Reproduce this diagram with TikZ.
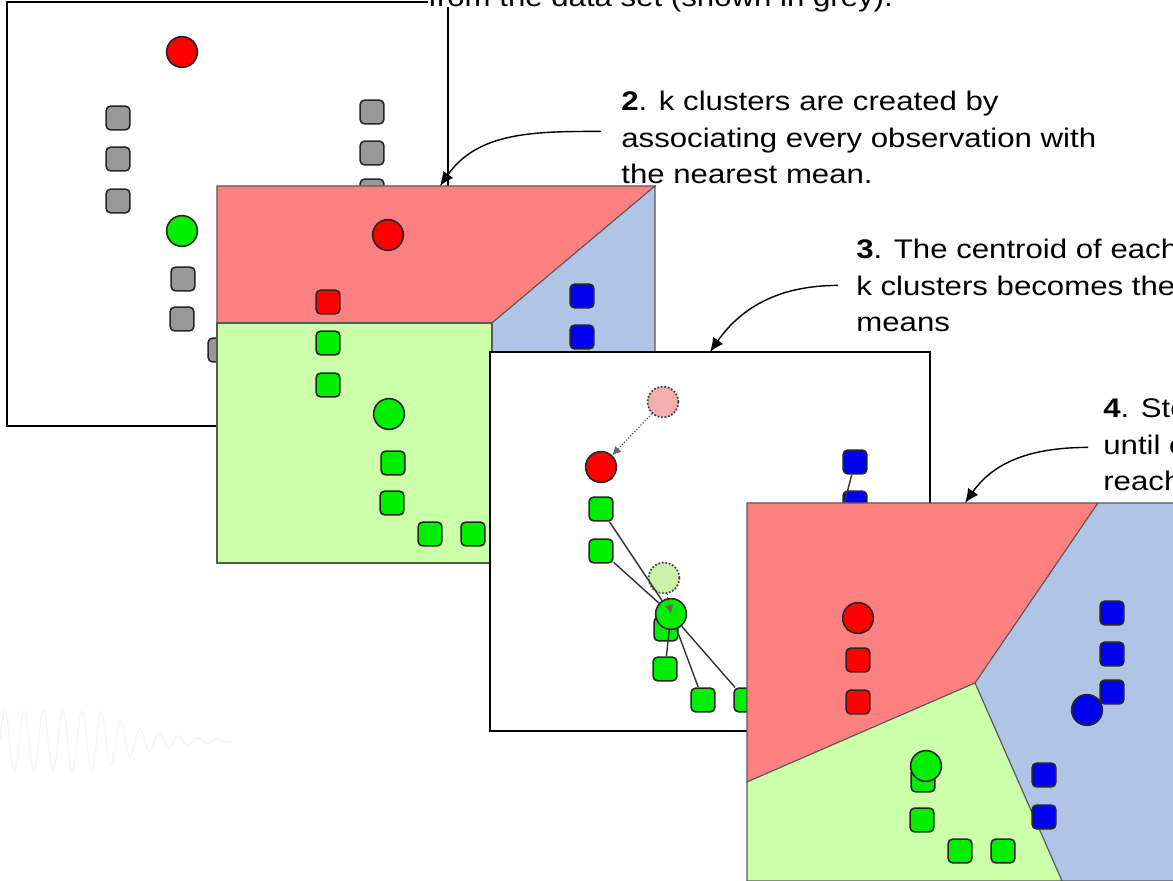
\documentclass[tikz,border=0pt]{standalone}
\usepackage{fontspec}
\setmainfont{Liberation Sans}
\newfontfamily\stepfont{Liberation Sans}[FakeStretch=1.16]
\usetikzlibrary{arrows.meta}

\definecolor{regred}{RGB}{255,128,128}
\definecolor{reggreen}{RGB}{204,255,170}
\definecolor{regblue}{RGB}{176,196,230}
\definecolor{ptgrey}{RGB}{153,153,153}
\definecolor{ptred}{RGB}{255,0,0}
\definecolor{ptgreen}{RGB}{0,238,0}
\definecolor{ptblue}{RGB}{0,0,238}
\definecolor{oldred}{RGB}{244,176,176}
\definecolor{oldgreen}{RGB}{204,242,170}
\definecolor{wavepink}{RGB}{252,240,240}

\tikzset{
  obs/.style={draw=black!85, line width=0.9pt, rounded corners=2.5pt, minimum size=13.5pt, inner sep=0pt, fill=#1},
  mean/.style={circle, draw=black!85, line width=0.9pt, minimum size=17.5pt, inner sep=0pt, fill=#1},
  oldmean/.style={circle, draw=black!75, densely dotted, line width=1pt, minimum size=17.5pt, inner sep=0pt, fill=#1},
  panelbox/.style={draw=black, line width=0.9pt, fill=white},
  region/.style={draw=black!65, line width=0.6pt, fill=#1},
  notearrow/.style={-{Latex[length=8pt,width=7pt]}, line width=0.8pt},
  moved/.style={-{Latex[length=5pt,width=5pt]}, densely dotted, draw=black!60, line width=0.7pt},
  link/.style={draw=black!80, line width=0.8pt},
  steptext/.style={font=\stepfont\fontsize{15.3}{20.6}\selectfont, align=left, inner sep=0pt, anchor=north west}
}

\begin{document}
\begin{tikzpicture}[x=0.02cm, y=-0.02cm]
\useasboundingbox (0,0) rectangle (1173,881);

% faint wave in the lower left
\draw[wavepink, line width=0.6pt] plot[domain=0:232, samples=400, smooth]
  (\x, {741 - 30*min(1,exp(-(\x-100)/45))*sin(18.653*\x)});

% panel 1: initial means
\begin{scope}[shift={(7,2)}]
\draw[panelbox] (0,0) rectangle (441,424);
\foreach \n/\x/\y in {a1/111/116, a2/111/157, a3/111/199, b1/365/110, b2/365/151, b3/365/189,
                      c1/297/272, c2/297/314, d1/176/277, d2/175/317, d3/213/348, d4/256/348}
  \node[obs=ptgrey] (p1\n) at (\x,\y) {};
\node[mean=ptred] (p1red) at (175,50) {};
\node[mean=ptgreen] (p1green) at (175,229) {};
\end{scope}
\node[steptext, anchor=base west, fill=white, text depth=0pt] (t1) at (428,7) {from the data set (shown in grey).};

% panel 2: assignment
\begin{scope}[shift={(217,186)}]
\draw[region=regred] (0,0) -- (438,0) -- (275,137) -- (0,137) -- cycle;
\draw[region=regblue] (275,137) -- (438,0) -- (438,377) -- (275,377) -- cycle;
\draw[region=reggreen] (0,137) -- (275,137) -- (275,377) -- (0,377) -- cycle;
\foreach \n/\x/\y/\c in {a1/111/116/ptred, a2/111/157/ptgreen, a3/111/199/ptgreen,
                         b1/365/110/ptblue, b2/365/151/ptblue, b3/365/189/ptblue,
                         c1/297/272/ptblue, c2/297/314/ptblue, d1/176/277/ptgreen,
                         d2/175/317/ptgreen, d3/213/348/ptgreen, d4/256/348/ptgreen}
  \node[obs=\c] (p2\n) at (\x,\y) {};
\node[mean=ptred] (p2red) at (171,49) {};
\node[mean=ptgreen] (p2green) at (172,228) {};
\end{scope}

% panel 3: update
\begin{scope}[shift={(490,352)}]
\draw[panelbox, line width=1.2pt] (0,0) rectangle (440,379);
\node[oldmean=oldred] (p3oldred) at (173,50) {};
\node[oldmean=oldgreen] (p3oldgreen) at (174,226) {};
\foreach \n/\x/\y/\c in {a1/111/116/ptred, a2/111/157/ptgreen, a3/111/199/ptgreen,
                         b1/365/110/ptblue, b2/365/151/ptblue, b3/365/189/ptblue,
                         c1/297/272/ptblue, c2/297/314/ptblue, d1/176/277/ptgreen,
                         d2/175/317/ptgreen, d3/213/348/ptgreen, d4/256/348/ptgreen}
  \node[obs=\c] (p3\n) at (\x,\y) {};
\node[mean=ptred] (p3red) at (111,115) {};
\node[mean=ptgreen] (p3green) at (181,262) {};
\node[mean=ptblue] (p3blue) at (340,207) {};
\foreach \n in {a2,a3,d2,d3,d4}
  \draw[link] (p3\n) -- (p3green);
\foreach \n in {b1,b2,b3,c1,c2}
  \draw[link] (p3\n) -- (p3blue);
\draw[moved] (p3oldred) -- (p3red);
\draw[moved] (p3oldgreen) -- (p3green.center);
\end{scope}

% panel 4: converged
\begin{scope}[shift={(747,503)}]
\draw[region=regred] (0,0) -- (351,0) -- (228,180) -- (0,279) -- cycle;
\draw[region=regblue] (351,0) -- (440,0) -- (440,378) -- (315,378) -- (228,180) -- cycle;
\draw[region=reggreen] (0,279) -- (228,180) -- (315,378) -- (0,378) -- cycle;
\foreach \n/\x/\y/\c in {a1/111/116/ptred, a2/111/157/ptred, a3/111/199/ptred,
                         b1/365/110/ptblue, b2/365/151/ptblue, b3/365/189/ptblue,
                         c1/297/272/ptblue, c2/297/314/ptblue, d1/176/277/ptgreen,
                         d2/175/317/ptgreen, d3/213/348/ptgreen, d4/256/348/ptgreen}
  \node[obs=\c] (p4\n) at (\x,\y) {};
\node[mean=ptred] (p4red) at (111,115) {};
\node[mean=ptgreen] (p4green) at (179,263) {};
\node[mean=ptblue] (p4blue) at (340,207) {};
\end{scope}

% step notes
\node[steptext] (t2) at (621,91) {\textbf{2}. k clusters are created by\\associating every observation with\\the nearest mean.};
\node[steptext] (t3) at (856,239) {\textbf{3}. The centroid of each of the\\k clusters becomes the new\\means};
\node[steptext] (t4) at (1103,398) {\textbf{4}. Steps 2 and 3 are repeated\\until convergence has been\\reached.};
\coordinate (p2top) at (440,186);
\coordinate (p3top) at (710,352);
\coordinate (p4top) at (965,503);
\draw[notearrow] ([shift={(-20,-6)}]t2.west) to[out=180,in=55] (p2top);
\draw[notearrow] ([shift={(-18,0)}]t3.west) to[out=180,in=55] (p3top);
\draw[notearrow] ([shift={(-15,3)}]t4.west) to[out=180,in=55] (p4top);
\end{tikzpicture}
\end{document}
